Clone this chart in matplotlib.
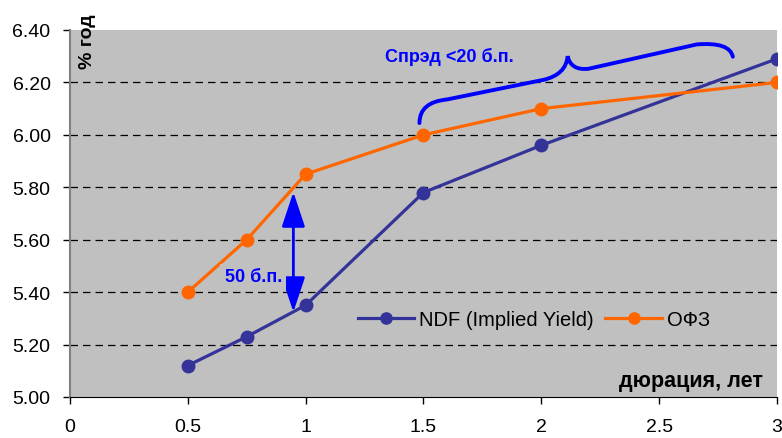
import matplotlib
matplotlib.use("Agg")
import matplotlib.pyplot as plt
from matplotlib.path import Path
from matplotlib.patches import PathPatch

plt.rcParams['font.family'] = ['Liberation Sans', 'DejaVu Sans']

# duration, years
duration = [0.5, 0.75, 1.0, 1.5, 2.0, 3.0]
ndf_yield = [5.12, 5.23, 5.35, 5.78, 5.96, 6.29]
ofz_yield = [5.40, 5.60, 5.85, 6.00, 6.10, 6.20]

x_ticks = [0, 0.5, 1, 1.5, 2, 2.5, 3]
x_tick_labels = ['0', '0.5', '1', '1.5', '2', '2.5', '3']
y_ticks = [5.00, 5.20, 5.40, 5.60, 5.80, 6.00, 6.20, 6.40]

NDF_COLOR = '#333399'
OFZ_COLOR = '#FF6600'
NOTE_COLOR = '#0000FF'

fig = plt.figure(figsize=(7.82, 4.39), dpi=100)
ax = fig.add_axes([0.0895, 0.0934, 0.904, 0.836])
ax.set_facecolor('#C0C0C0')

for y in y_ticks[1:-1]:
    ax.axhline(y, color='black', lw=0.9, dashes=(6, 4), zorder=1)

ax.plot(duration, ndf_yield, color=NDF_COLOR, lw=2.3, marker='o', ms=9,
        label='NDF (Implied Yield)', zorder=3)
ax.plot(duration, ofz_yield, color=OFZ_COLOR, lw=2.3, marker='o', ms=9,
        label='ОФЗ', zorder=3)

# 50 bp gap at 1 year
ax.annotate('', xy=(0.948, 5.324), xytext=(0.948, 5.782),
            arrowprops=dict(arrowstyle='<|-|>,head_length=0.72,head_width=0.24',
                            color=NOTE_COLOR, lw=2, mutation_scale=30,
                            shrinkA=0, shrinkB=0), zorder=4)
ax.text(0.778, 5.458, '50 б.п.', color=NOTE_COLOR, fontsize=13,
        fontweight='bold', ha='center', va='center', zorder=4,
        bbox=dict(facecolor='#C0C0C0', edgecolor='none', pad=3))

# brace over the long end
verts = [(1.483, 6.045), (1.483, 6.125), (1.60, 6.135),
         (2.01, 6.210),
         (2.105, 6.230), (2.112, 6.300),
         (2.125, 6.245), (2.20, 6.252),
         (2.66, 6.345),
         (2.80, 6.355), (2.813, 6.298)]
codes = [Path.MOVETO, Path.CURVE3, Path.CURVE3,
         Path.LINETO,
         Path.CURVE3, Path.CURVE3,
         Path.CURVE3, Path.CURVE3,
         Path.LINETO,
         Path.CURVE3, Path.CURVE3]
ax.add_patch(PathPatch(Path(verts, codes), facecolor='none',
                       edgecolor=NOTE_COLOR, lw=2.8, capstyle='round',
                       zorder=4))
ax.text(1.61, 6.30, 'Спрэд <20 б.п.', color=NOTE_COLOR, fontsize=13,
        fontweight='bold', ha='center', va='center')

ax.set_xlim(0, 3)
ax.set_ylim(5.0, 6.4)
ax.set_xticks(x_ticks)
ax.set_xticklabels(x_tick_labels)
ax.set_yticks(y_ticks)
ax.set_yticklabels(['%.2f' % v for v in y_ticks])
ax.tick_params(axis='both', labelsize=14, length=5, width=1, direction='out',
               colors='black')
ax.tick_params(axis='x', pad=10)
ax.tick_params(axis='y', pad=9)

ax.spines['top'].set_visible(False)
ax.spines['right'].set_visible(False)
ax.spines['left'].set_color('#808080')
ax.spines['left'].set_linewidth(1.5)
ax.spines['bottom'].set_color('black')

ax.text(0.0248, 0.97, '% год', transform=ax.transAxes, rotation=90,
        fontsize=14, fontweight='bold', ha='center', va='center',
        clip_on=False)
ax.text(0.980, 0.044, 'дюрация, лет', transform=ax.transAxes,
        fontsize=15.5, fontweight='bold', ha='right', va='center')

ax.legend(loc='center left', bbox_to_anchor=(0.407, 0.21), ncol=2,
          frameon=False, fontsize=14.5, handlelength=2.8, columnspacing=0.57,
          handletextpad=0.26, markerscale=0.9, borderpad=0, borderaxespad=0)

fig.savefig('out.png', dpi=100)
